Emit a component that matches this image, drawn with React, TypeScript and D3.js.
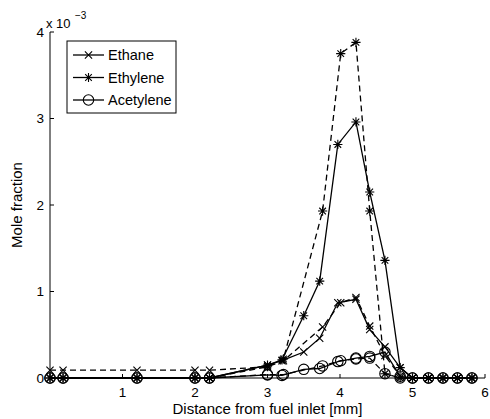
import React from "react";
import * as d3 from "d3";

// ---- data (mole fraction in units of 1e-3) ----
const X_SOLID = [0, 0.18, 1.2, 2.0, 2.2, 3.0, 3.2, 3.5, 3.72, 3.97, 4.22, 4.41, 4.62, 4.83, 5.0, 5.22, 5.42, 5.62, 5.82];
const ETHANE_SOLID = [0, 0, 0, 0, 0, 0.15, 0.2, 0.3, 0.46, 0.87, 0.91, 0.56, 0.36, 0.12, 0, 0, 0, 0, 0];
const ETHYLENE_SOLID = [0, 0, 0, 0, 0, 0.15, 0.21, 0.72, 1.12, 2.7, 2.96, 2.15, 1.36, 0.12, 0, 0, 0, 0, 0];
const ACETYLENE_SOLID = [0, 0, 0, 0, 0, 0.035, 0.03, 0.1, 0.11, 0.19, 0.23, 0.25, 0.3, 0.02, 0, 0, 0, 0, 0];

const X_DASHED = [0, 0.18, 1.2, 2.0, 2.2, 3.0, 3.22, 3.76, 4.01, 4.22, 4.41, 4.62, 4.83, 5.0, 5.22, 5.42, 5.62, 5.82];
const ETHANE_DASHED = [0.09, 0.09, 0.09, 0.09, 0.09, 0.13, 0.2, 0.59, 0.87, 0.93, 0.6, 0.26, 0.02, 0, 0, 0, 0, 0];
const ETHYLENE_DASHED = [0, 0, 0, 0, 0, 0.13, 0.22, 1.93, 3.75, 3.88, 1.93, 0.05, 0, 0, 0, 0, 0, 0];
const ACETYLENE_DASHED = [0, 0, 0, 0, 0, 0.04, 0.04, 0.14, 0.2, 0.22, 0.23, 0.05, 0, 0, 0, 0, 0, 0];

const X_TICKS = [1, 2, 3, 4, 5, 6];
const Y_TICKS = [0, 1, 2, 3, 4];
const LEGEND_NAMES = ["Ethane", "Ethylene", "Acetylene"];
const MARKERS = ["x", "star", "circle"];

const FONT = "'Liberation Sans', Arial, Helvetica, sans-serif";

function markerPath(kind: string): string {
  const p = d3.path();
  if (kind === "x") {
    const r = 3.6;
    p.moveTo(-r, -r); p.lineTo(r, r);
    p.moveTo(-r, r); p.lineTo(r, -r);
  } else if (kind === "star") {
    const r = 4.6;
    const d = r * 0.72;
    p.moveTo(-r, 0); p.lineTo(r, 0);
    p.moveTo(0, -r); p.lineTo(0, r);
    p.moveTo(-d, -d); p.lineTo(d, d);
    p.moveTo(-d, d); p.lineTo(d, -d);
  } else {
    const r = 5.2;
    p.moveTo(r, 0);
    p.arc(0, 0, r, 0, Math.PI * 2);
  }
  return p.toString();
}

export default function App() {
  const W = 490, H = 419;
  const x = d3.scaleLinear().domain([0, 6]).range([50, 485]);
  const y = d3.scaleLinear().domain([0, 4]).range([378, 32]);
  const line = d3.line<[number, number]>().x(d => x(d[0])).y(d => y(d[1]));

  const series = [
    { xs: X_DASHED, ys: ETHANE_DASHED, m: "x", dashed: true },
    { xs: X_DASHED, ys: ETHYLENE_DASHED, m: "star", dashed: true },
    { xs: X_DASHED, ys: ACETYLENE_DASHED, m: "circle", dashed: true },
    { xs: X_SOLID, ys: ETHANE_SOLID, m: "x", dashed: false },
    { xs: X_SOLID, ys: ETHYLENE_SOLID, m: "star", dashed: false },
    { xs: X_SOLID, ys: ACETYLENE_SOLID, m: "circle", dashed: false },
  ];

  return (
    <div style={{ position: "fixed", left: 0, top: 0 }}>
      <svg width={W} height={H} style={{ display: "block", background: "#fff" }}>
        <rect width={W} height={H} fill="#fff" />
        {series.map((s, i) => {
          const pts = s.xs.map((v, j) => [v, s.ys[j]] as [number, number]);
          return (
            <g key={i}>
              <path d={line(pts) || ""} fill="none" stroke="#000" strokeWidth={1.3}
                strokeDasharray={s.dashed ? "6,4" : undefined} />
              {pts.map((p, j) => (
                <path key={j} d={markerPath(s.m)} transform={`translate(${x(p[0])},${y(p[1])})`}
                  fill="none" stroke="#000" strokeWidth={1.1} />
              ))}
            </g>
          );
        })}
        {/* axes */}
        <line x1={x(0)} x2={x(0)} y1={y(0)} y2={y(4)} stroke="#000" strokeWidth={1} />
        <line x1={x(0)} x2={x(6)} y1={y(0)} y2={y(0)} stroke="#000" strokeWidth={1} />
        {Y_TICKS.map(t => (
          <g key={"y" + t}>
            <line x1={x(0)} x2={x(0) + 4} y1={y(t)} y2={y(t)} stroke="#000" />
            <text x={x(0) - 6} y={y(t)} dy="0.35em" textAnchor="end" fontFamily={FONT} fontSize={13.5}>{t}</text>
          </g>
        ))}
        {X_TICKS.map(t => (
          <g key={"x" + t}>
            <line x1={x(t)} x2={x(t)} y1={y(0)} y2={y(0) - 4} stroke="#000" />
            <text x={x(t)} y={y(0) + 19} textAnchor="middle" fontFamily={FONT} fontSize={13.5}>{t}</text>
          </g>
        ))}
        <text x={46} y={28} fontFamily={FONT} fontSize={13}>x 10</text>
        <text x={75} y={19} fontFamily={FONT} fontSize={10}>−3</text>
        <text x={x(3)} y={414} textAnchor="middle" fontFamily={FONT} fontSize={15}>Distance from fuel inlet [mm]</text>
        <text transform={`translate(22,${y(2)}) rotate(-90)`} textAnchor="middle" fontFamily={FONT} fontSize={15}>Mole fraction</text>
        {/* legend */}
        <rect x={67} y={41} width={109} height={72} fill="#fff" stroke="#000" strokeWidth={1} />
        {LEGEND_NAMES.map((n, i) => {
          const ly = 55 + i * 22.5;
          return (
            <g key={n}>
              <line x1={73} x2={104} y1={ly} y2={ly} stroke="#000" strokeWidth={1.3} />
              <path d={markerPath(MARKERS[i])} transform={`translate(88.5,${ly})`} fill="none" stroke="#000" strokeWidth={1.1} />
              <text x={108} y={ly} dy="0.35em" fontFamily={FONT} fontSize={14.5}>{n}</text>
            </g>
          );
        })}
      </svg>
    </div>
  );
}
